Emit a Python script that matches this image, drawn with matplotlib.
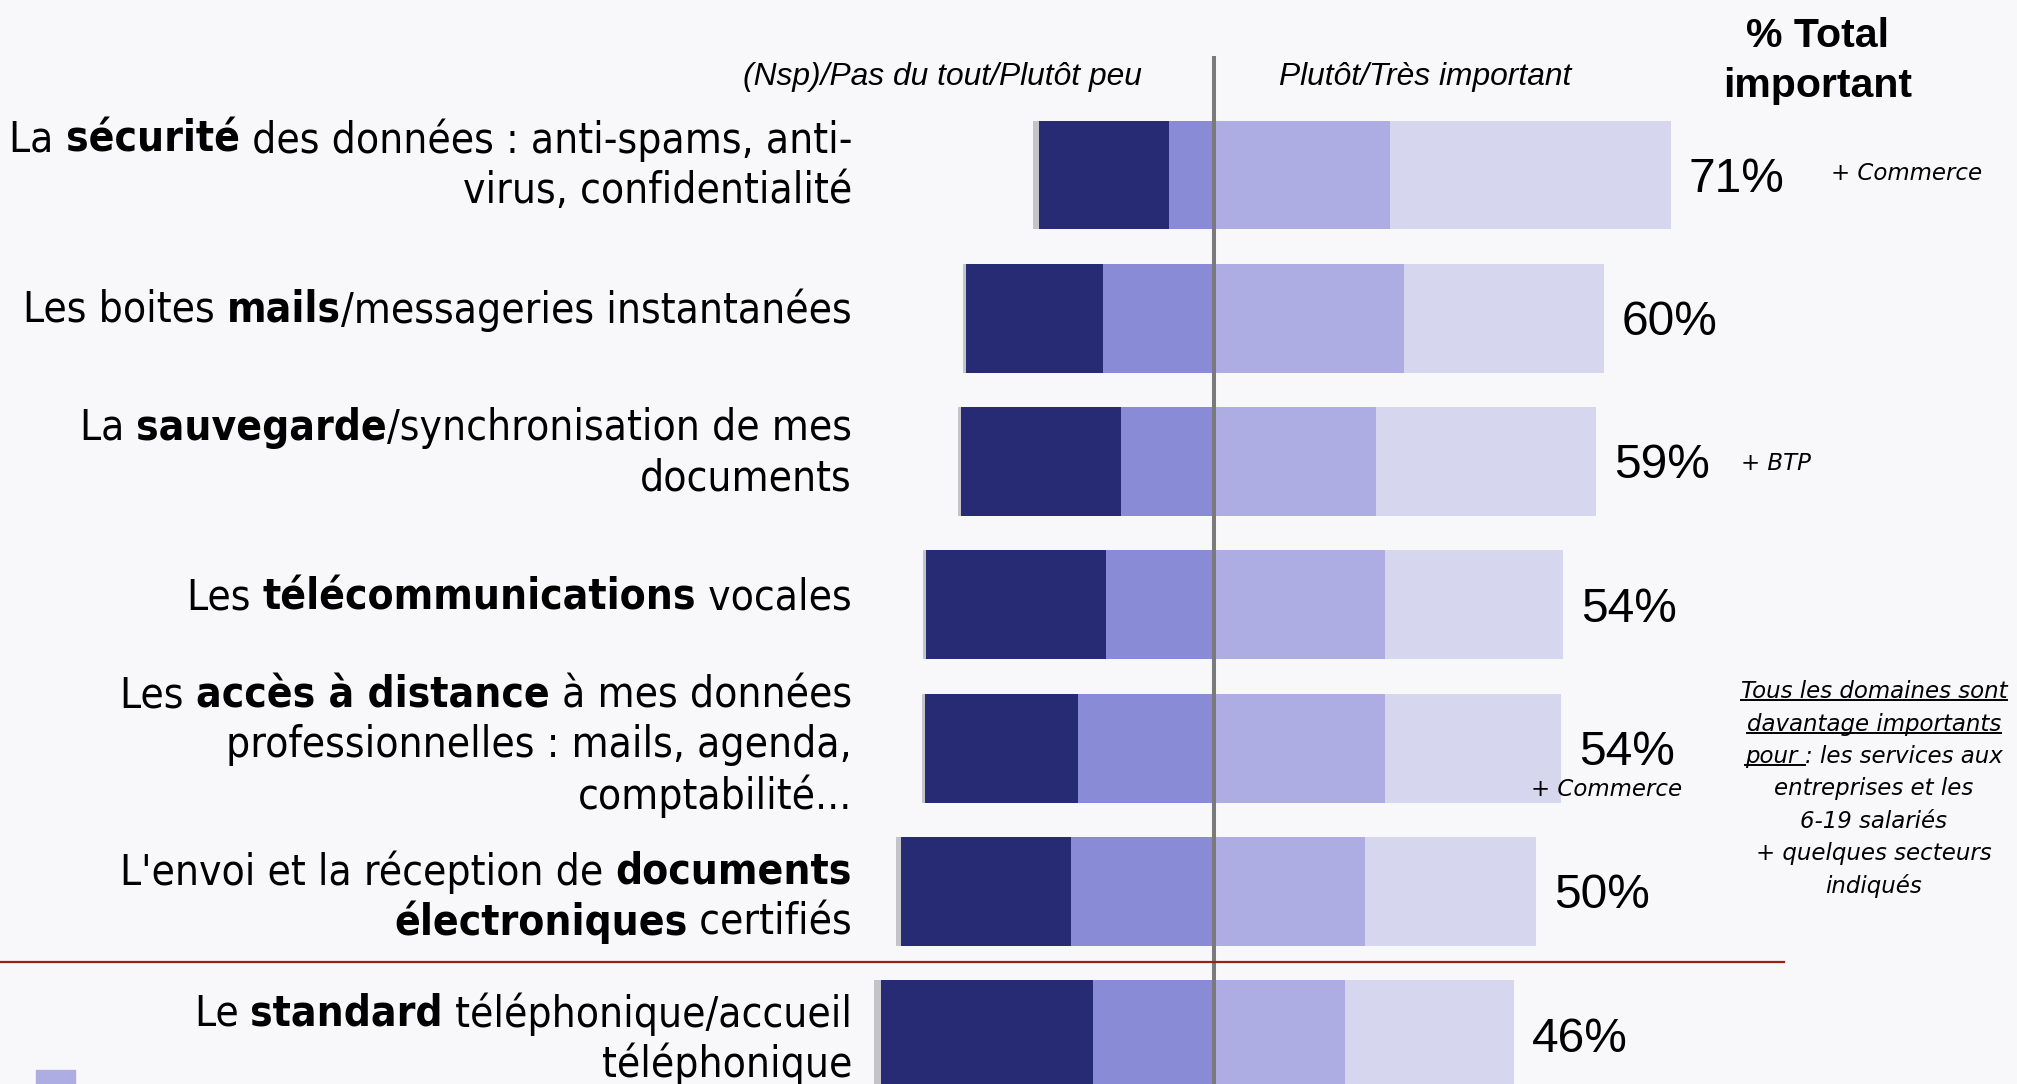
import matplotlib
matplotlib.use("Agg")
import matplotlib.pyplot as plt
from matplotlib import font_manager
from matplotlib.lines import Line2D
from matplotlib.patches import Rectangle
from matplotlib.transforms import IdentityTransform

# ---- data (percentages) ----
categories = [
    [[("La ", "normal"), ("sécurité", "bold"), (" des données : anti-spams, anti-", "normal")],
     [("virus, confidentialité", "normal")]],
    [[("Les boites ", "normal"), ("mails", "bold"), ("/messageries instantanées", "normal")]],
    [[("La ", "normal"), ("sauvegarde", "bold"), ("/synchronisation de mes", "normal")],
     [("documents", "normal")]],
    [[("Les ", "normal"), ("télécommunications", "bold"), (" vocales", "normal")]],
    [[("Les ", "normal"), ("accès à distance", "bold"), (" à mes données", "normal")],
     [("professionnelles : mails, agenda,", "normal")],
     [("comptabilité...", "normal")]],
    [[("L'envoi et la réception de ", "normal"), ("documents", "bold")],
     [("électroniques", "bold"), (" certifiés", "normal")]],
    [[("Le ", "normal"), ("standard", "bold"), (" téléphonique/accueil", "normal")],
     [("téléphonique", "normal")]],
]
nsp = [1.0, 0.4, 0.4, 0.4, 0.4, 0.8, 1.0]
pas_du_tout = [20.2, 21.4, 25.0, 28.0, 23.8, 26.4, 33.0]
plutot_peu = [7.0, 17.2, 14.4, 16.8, 21.2, 22.2, 18.8]
plutot_important = [27.4, 29.6, 25.2, 26.6, 26.6, 23.4, 20.4]
tres_important = [43.6, 31.0, 34.2, 27.6, 27.4, 26.6, 26.2]
total_important = [71, 60, 59, 54, 54, 50, 46]
sector_notes = {0: "+ Commerce", 2: "+ BTP", 4: "+ Commerce"}
note_lines = [
    [("Tous les domaines sont", True)],
    [("davantage importants", True)],
    [("pour ", True), (": les services aux", False)],
    [("entreprises et les", False)],
    [("6-19 salariés", False)],
    [("+ quelques secteurs", False)],
    [("indiqués", False)],
]

# ---- colours ----
BG = "#F8F8FB"
C_NSP = "#C4C4C8"
C_PDT = "#272B73"
C_PP = "#898BD6"
C_PI = "#ADADE3"
C_TI = "#D6D6EE"

W, H, DPI = 2017, 1084, 100
fonts = {f.name for f in font_manager.fontManager.ttflist}
NARROW = "Liberation Sans Narrow" if "Liberation Sans Narrow" in fonts else "Liberation Sans"
LABEL_FONT = dict(family="DejaVu Sans", fontstretch="condensed", fontsize=30.4)
NOTE_FONT = dict(family="DejaVu Sans", fontstyle="italic", fontsize=16.5)

fig = plt.figure(figsize=(W / DPI, H / DPI), dpi=DPI, facecolor=BG)
renderer = fig.canvas.get_renderer()
PX = IdentityTransform()

# axes laid out so that 0 % sits on the vertical divider
ax = fig.add_axes([828.1 / W, 0, 900.5 / W, 1])
ax.set_xlim(-60, 80)
ax.set_ylim(6.343, -1.2212)
ax.axis("off")

y = list(range(len(categories)))
h = 0.76
left_pp = [-v for v in plutot_peu]
left_pdt = [-(a + b) for a, b in zip(plutot_peu, pas_du_tout)]
left_nsp = [-(a + b + c) for a, b, c in zip(plutot_peu, pas_du_tout, nsp)]
ax.barh(y, nsp, left=left_nsp, height=h, color=C_NSP)
ax.barh(y, pas_du_tout, left=left_pdt, height=h, color=C_PDT)
ax.barh(y, plutot_peu, left=left_pp, height=h, color=C_PP)
ax.barh(y, plutot_important, left=0, height=h, color=C_PI)
ax.barh(y, tres_important, left=plutot_important, height=h, color=C_TI)
ax.axvline(0, ymin=0, ymax=1 - 58 / H, color="#7A7A7A", lw=2.9, zorder=5)

pct_size = 38 if NARROW.endswith("Narrow") else 34.5
for i, tot in enumerate(total_important):
    end = plutot_important[i] + tres_important[i]
    ax.annotate(f"{tot}%", (end, i), xytext=(13, -3), textcoords="offset points",
                ha="left", va="center", fontsize=pct_size, family=NARROW)

# red separator between the top six and the last item
fig.add_artist(Line2D([0, 1784], [H - 962, H - 962], transform=PX,
                      color="#9E1E14", lw=1.6))


def width_of(s, **font):
    a = fig.text(0, 0, "|" + s + "|", **font)
    b = fig.text(0, 0, "||", **font)
    w = a.get_window_extent(renderer).width - b.get_window_extent(renderer).width
    a.remove()
    b.remove()
    return w


def rich_line(pieces, x, ytop, ha="right", **font):
    """pieces: (text, weight, underline). x/ytop in pixels from top-left."""
    widths = [width_of(s, fontweight=wt, **font) for s, wt, ul in pieces]
    total = sum(widths)
    start = {"right": x - total, "center": x - total / 2, "left": x}[ha]
    for (s, wt, ul), w in zip(pieces, widths):
        fig.text(start, H - ytop, s, transform=PX, ha="left", va="center",
                 fontweight=wt, **font)
        if ul:
            size_px = font["fontsize"] * DPI / 72
            yu = H - ytop - 0.36 * size_px
            fig.add_artist(Line2D([start, start + w], [yu, yu], transform=PX,
                                  color="black", lw=1.4))
        start += w


# category labels
label_top = [140, 310, 428, 597, 695, 872, 1014]
line_step = 50.5
for i, lines in enumerate(categories):
    for j, line in enumerate(lines):
        rich_line([(s, wt, False) for s, wt in line], 852, label_top[i] + j * line_step,
                  ha="right", **LABEL_FONT)

# headers
hdr_size = 25 if NARROW.endswith("Narrow") else 22.9
fig.text(1142, H - 77, "(Nsp)/Pas du tout/Plutôt peu", transform=PX, ha="right",
         va="center", family=NARROW, fontstyle="italic", fontsize=hdr_size)
fig.text(1279, H - 77, "Plutôt/Très important", transform=PX, ha="left",
         va="center", family=NARROW, fontstyle="italic", fontsize=hdr_size)
fig.text(1818, H - 36, "% Total", transform=PX, ha="center", va="center",
         family="Liberation Sans", fontweight="bold", fontsize=29.5)
fig.text(1818, H - 86, "important", transform=PX, ha="center", va="center",
         family="Liberation Sans", fontweight="bold", fontsize=29.5)

# sector notes
note_pos = {0: (1831, 174), 2: (1741, 463), 4: (1531, 790)}
for i, s in sector_notes.items():
    x0, y0 = note_pos[i]
    fig.text(x0, H - y0, s, transform=PX, ha="left", va="center", **NOTE_FONT)

# side comment block
for k, line in enumerate(note_lines):
    rich_line([(s, "normal", ul) for s, ul in line], 1874, 692 + k * 32.3,
              ha="center", **NOTE_FONT)

# small decorative square bottom-left
fig.add_artist(Rectangle((36, 0), 39, 14, transform=PX, color=C_PI))

fig.savefig("out.png", dpi=DPI, facecolor=BG)
